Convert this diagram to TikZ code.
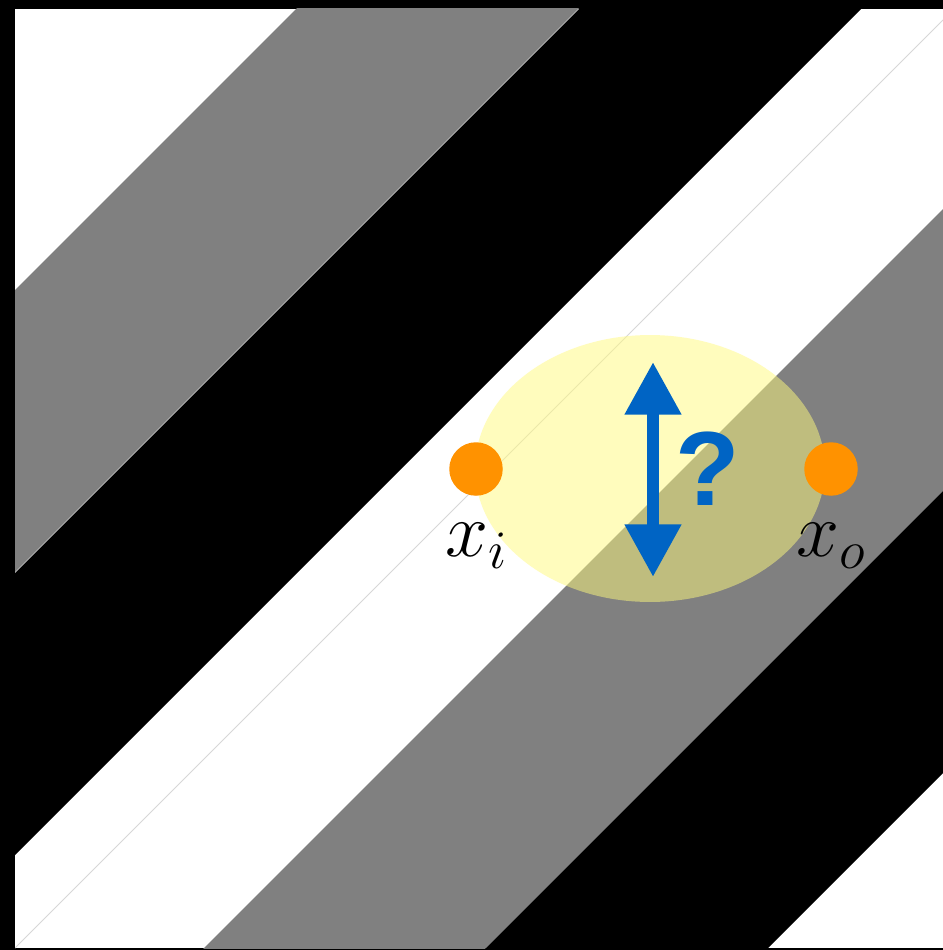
\documentclass[tikz,border=0pt]{standalone}
\usepackage{fix-cm}
\usepackage{fontspec}
\newfontfamily\qfont{Liberation Sans}
\usepackage{tikz}
\usetikzlibrary{arrows.meta,positioning,shapes.geometric}
\definecolor{orangeP}{RGB}{255,146,0}
\definecolor{bleuF}{RGB}{0,100,196}
\definecolor{jauneB}{RGB}{255,250,125}
\definecolor{grisL}{RGB}{215,215,215}
\tikzset{
  pastille/.style={circle, fill=orangeP, minimum size=1.07cm, inner sep=0pt},
  etiq/.style={inner sep=0pt, font=\fontsize{44}{50}\selectfont},
  bulle/.style={ellipse, fill=jauneB, fill opacity=0.5, minimum width=7cm,
                minimum height=5.34cm, inner sep=0pt},
  fleche/.style={{Triangle[width=30.6pt,length=30pt]}-{Triangle[width=30.6pt,length=30pt]},
                 line width=6.8pt, draw=bleuF},
}
\begin{document}
\begin{tikzpicture}[x=0.02cm, y=-0.02cm]
    \useasboundingbox (0,0) rectangle (943,950);
    \fill[black] (0,0) rectangle (943,950);
    \begin{scope}
      \clip (15,8.6) rectangle (943,948);
      \fill[white] (15,8.6) rectangle (943,948);
      \foreach \c/\col in {305/gray, 588/black, 1152/gray, 1434/black}
        \fill[\col] (\c+200,-200) -- (\c+482,-200) -- (\c-918,1200) -- (\c-1200,1200) -- cycle;
      \coordinate (coinBG) at (15,948);
      \coordinate (coinHD) at (943,20);
      \draw[grisL, line width=0.5pt] (coinBG) -- (coinHD);
    \end{scope}
    \node[bulle] (zone) at (650,468.5) {};
    \coordinate (haut) at (653,362);
    \coordinate (bas) at (653,577);
    \draw[fleche] (haut) -- (bas);
    \node[font=\qfont\bfseries\fontsize{60}{70}\selectfont, text=bleuF, inner sep=0pt]
      (quest) at (708,469) {?};
    \node[pastille] (xi) at (476,469) {};
    \node[pastille] (xo) at (831,469) {};
    \node[etiq, below=0.54cm of xi] (lxi) {$x_i$};
    \node[etiq, below=0.54cm of xo] (lxo) {$x_o$};
  \end{tikzpicture}
\end{document}
